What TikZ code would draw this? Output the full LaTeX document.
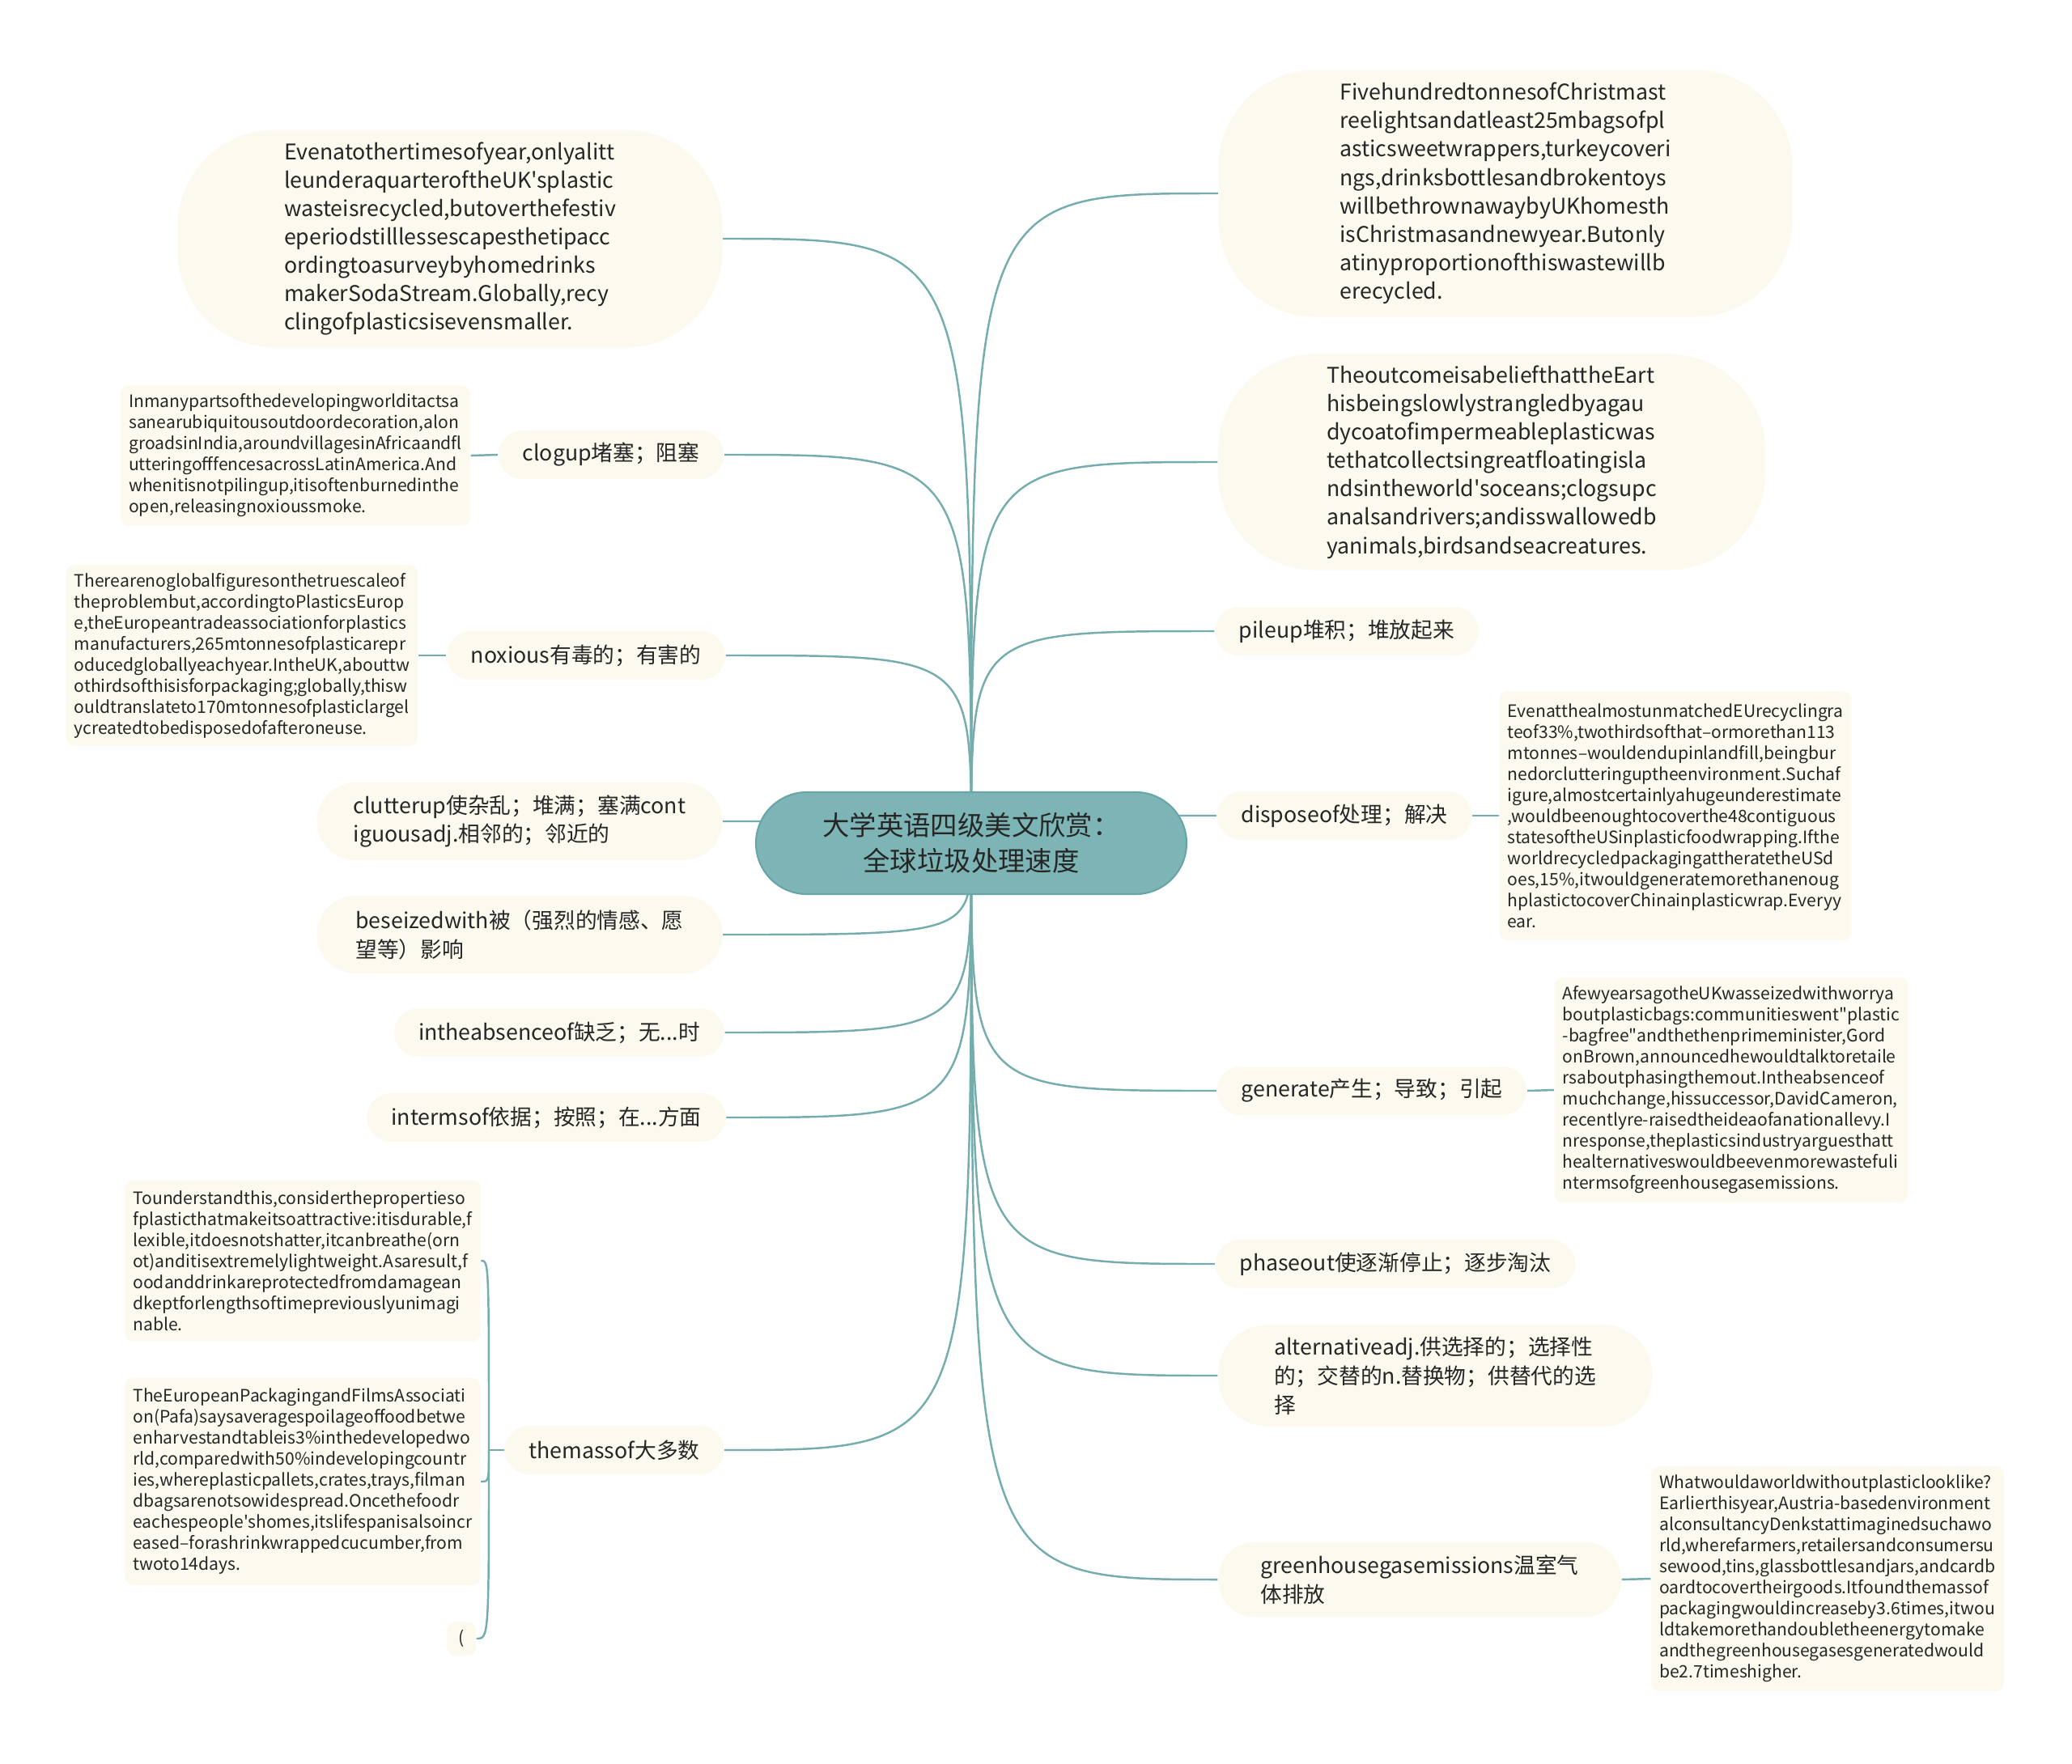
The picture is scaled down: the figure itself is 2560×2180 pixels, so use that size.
\documentclass[tikz,border=0pt]{standalone}
\usepackage{fontspec}
\setmainfont{Noto Sans CJK SC}[Ligatures=TeXOff]
\usepackage{tikz}
\pgfdeclarelayer{bg}
\pgfsetlayers{bg,main}
\definecolor{cream}{HTML}{FCF9EE}
\definecolor{rootfill}{HTML}{7DB5B6}
\definecolor{rootline}{HTML}{68A5A7}
\definecolor{linkteal}{HTML}{75ADAF}
\definecolor{ink}{HTML}{262626}
\tikzstyle{root}=[rectangle, rounded corners=6.3mm, fill=rootfill, draw=rootline, line width=0.6pt, minimum width=53.2mm, minimum height=12.6mm, align=center, text=ink, font=\fontsize{9.5}{12.5}\selectfont]
\tikzstyle{bubble}=[rectangle, rounded corners=3mm, fill=cream, align=left, text=ink, minimum height=6mm, inner xsep=3mm, font=\fontsize{7.6}{10.2}\selectfont]
\tikzstyle{bigbubble}=[bubble, rounded corners=12mm, font=\fontsize{7.6}{10}\selectfont]
\tikzstyle{note}=[rectangle, rounded corners=1mm, fill=cream, align=left, text=ink, inner sep=1mm, font=\fontsize{6}{7.4}\selectfont]
\tikzstyle{link}=[draw=linkteal, line width=0.7pt]

\begin{document}
\begin{tikzpicture}[x=0.1mm, y=-0.1mm]
\useasboundingbox (0,0) rectangle (2560,2180);
\node [root] (root) at (1200,1042) {大学英语四级美文欣赏：\\全球垃圾处理速度};
\node [bigbubble, minimum width=67.3mm, minimum height=26.9mm] (evenat) at (556,295) {Evenatothertimesofyear,onlyalitt\\leunderaquarteroftheUK'splastic\\wasteisrecycled,butoverthefestiv\\eperiodstilllessescapesthetipacc\\ordingtoasurveybyhomedrinks\\makerSodaStream.Globally,recy\\clingofplasticsisevensmaller.};
\node [bubble, minimum width=27.6mm] (clogup) at (755,562) {clogup堵塞；阻塞};
\node [note, minimum width=42.6mm, minimum height=17.3mm] (clognote) at (365,563) {Inmanypartsofthedevelopingworlditactsa\\sanearubiquitousoutdoordecoration,alon\\groadsinIndia,aroundvillagesinAfricaandfl\\utteringofffencesacrossLatinAmerica.And\\whenitisnotpilingup,itisoftenburnedinthe\\open,releasingnoxioussmoke.};
\node [bubble, minimum width=33.8mm] (noxious) at (724,810) {noxious有毒的；有害的};
\node [note, minimum width=42.4mm, minimum height=22.3mm] (noxnote) at (299,810) {Therearenoglobalfiguresonthetruescaleof\\theproblembut,accordingtoPlasticsEurop\\e,theEuropeantradeassociationforplastics\\manufacturers,265mtonnesofplasticarepr\\oducedgloballyeachyear.IntheUK,abouttw\\othirdsofthisisforpackaging;globally,thisw\\ouldtranslateto170mtonnesofplasticlargel\\ycreatedtobedisposedofafteroneuse.};
\node [bubble, minimum width=50.1mm, minimum height=9.6mm, rounded corners=4.8mm] (clutter) at (642,1015) {clutterup使杂乱；堆满；塞满cont\\iguousadj.相邻的；邻近的};
\node [bubble, minimum width=50.1mm, minimum height=9.6mm, rounded corners=4.8mm] (seized) at (642,1155) {beseizedwith被（强烈的情感、愿\\望等）影响};
\node [bubble, minimum width=40.3mm] (absence) at (691,1276) {intheabsenceof缺乏；无...时};
\node [bubble, minimum width=43.6mm] (terms) at (675,1381) {intermsof依据；按照；在...方面};
\node [bubble, minimum width=26.8mm] (mass) at (759,1792) {themassof大多数};
\coordinate (fork) at (604,1792);
\node [note, minimum width=42.8mm, minimum height=19.9mm] (massa) at (374,1558) {Tounderstandthis,considerthepropertieso\\fplasticthatmakeitsoattractive:itisdurable,f\\lexible,itdoesnotshatter,itcanbreathe(orn\\ot)anditisextremelylightweight.Asaresult,f\\oodanddrinkareprotectedfromdamagean\\dkeptforlengthsoftimepreviouslyunimagi\\nable.};
\node [note, minimum width=42.8mm, minimum height=25.6mm] (massb) at (374,1831) {TheEuropeanPackagingandFilmsAssociati\\on(Pafa)saysaveragespoilageoffoodbetwe\\enharvestandtableis3\%inthedevelopedwo\\rld,comparedwith50\%indevelopingcountr\\ies,whereplasticpallets,crates,trays,filman\\dbagsarenotsowidespread.Oncethefoodr\\eachespeople'shomes,itslifespanisalsoincr\\eased–forashrinkwrappedcucumber,from\\twoto14days.};
\node [note, minimum width=3.6mm, minimum height=3.9mm] (massc) at (570,2025) {(};
\node [bigbubble, minimum width=70.9mm, minimum height=30.5mm] (tonnes) at (1860,239) {FivehundredtonnesofChristmast\\reelightsandatleast25mbagsofpl\\asticsweetwrappers,turkeycoveri\\ngs,drinksbottlesandbrokentoys\\willbethrownawaybyUKhomesth\\isChristmasandnewyear.Butonly\\atinyproportionofthiswastewillb\\erecycled.};
\node [bigbubble, minimum width=67.6mm, minimum height=26.7mm] (outcome) at (1843,571) {TheoutcomeisabeliefthattheEart\\hisbeingslowlystrangledbyagau\\dycoatofimpermeableplasticwas\\tethatcollectsingreatfloatingisla\\ndsintheworld'soceans;clogsupc\\analsandrivers;andisswallowedb\\yanimals,birdsandseacreatures.};
\node [bubble, minimum width=31.9mm] (pile) at (1664,780) {pileup堆积；堆放起来};
\node [bubble, minimum width=31.2mm] (dispose) at (1661,1008) {disposeof处理；解决};
\node [note, minimum width=42.5mm, minimum height=30.8mm] (disnote) at (2070,1008) {EvenatthealmostunmatchedEUrecyclingra\\teof33\%,twothirdsofthat–ormorethan113\\mtonnes–wouldendupinlandfill,beingbur\\nedorclutteringuptheenvironment.Suchaf\\igure,almostcertainlyahugeunderestimate\\,wouldbeenoughtocoverthe48contiguous\\statesoftheUSinplasticfoodwrapping.Ifthe\\worldrecycledpackagingattheratetheUSd\\oes,15\%,itwouldgeneratemorethanenoug\\hplastictocoverChinainplasticwrap.Everyy\\ear.};
\node [bubble, minimum width=38.1mm] (generate) at (1695,1348) {generate产生；导致；引起};
\node [note, minimum width=42.4mm, minimum height=27.8mm] (gennote) at (2139,1347) {AfewyearsagotheUKwasseizedwithworrya\\boutplasticbags:communitieswent"plastic\\-bagfree"andthethenprimeminister,Gord\\onBrown,announcedhewouldtalktoretaile\\rsaboutphasingthemout.Intheabsenceof\\muchchange,hissuccessor,DavidCameron,\\recentlyre-raisedtheideaofanationallevy.I\\nresponse,theplasticsindustryarguesthatt\\healternativeswouldbeevenmorewastefuli\\ntermsofgreenhousegasemissions.};
\node [bubble, minimum width=43.8mm] (phase) at (1724,1562) {phaseout使逐渐停止；逐步淘汰};
\node [bubble, minimum width=53.6mm, minimum height=12.5mm, rounded corners=6mm] (altern) at (1773,1700) {alternativeadj.供选择的；选择性\\的；交替的n.替换物；供替代的选\\择};
\node [bubble, minimum width=49.8mm, minimum height=9.3mm, rounded corners=4.6mm] (green) at (1754,1952) {greenhousegasemissions温室气\\体排放};
\node [note, minimum width=42.4mm, minimum height=27.8mm] (greennote) at (2258,1951) {Whatwouldaworldwithoutplasticlooklike?\\Earlierthisyear,Austria-basedenvironment\\alconsultancyDenkstattimaginedsuchawo\\rld,wherefarmers,retailersandconsumersu\\sewood,tins,glassbottlesandjars,andcardb\\oardtocovertheirgoods.Itfoundthemassof\\packagingwouldincreaseby3.6times,itwou\\ldtakemorethandoubletheenergytomake\\andthegreenhousegasesgeneratedwould\\be2.7timeshigher.};
\begin{pgfonlayer}{bg}
\fill [white] (0,0) rectangle (2560,2180);
\foreach \n in {evenat,clogup,noxious,clutter,seized,absence,terms,mass}
  \draw [link] (root.center) .. controls (root.center |- \n.east) .. (\n.east);
\foreach \n in {tonnes,outcome,pile,dispose,generate,phase,altern,green}
  \draw [link] (root.center) .. controls (root.center |- \n.west) .. (\n.west);
\draw [link] (clogup.west) -- (clognote.east);
\draw [link] (noxious.west) -- (noxnote.east);
\draw [link] (dispose.east) -- (disnote.west);
\draw [link] (generate.east) -- (gennote.west);
\draw [link] (green.east) -- (greennote.west);
\draw [link] (mass.west) -- (fork);
\foreach \n in {massa,massb,massc}
  \draw [link] (fork) .. controls (fork |- \n.east) .. (\n.east);
\end{pgfonlayer}
\end{tikzpicture}
\end{document}
